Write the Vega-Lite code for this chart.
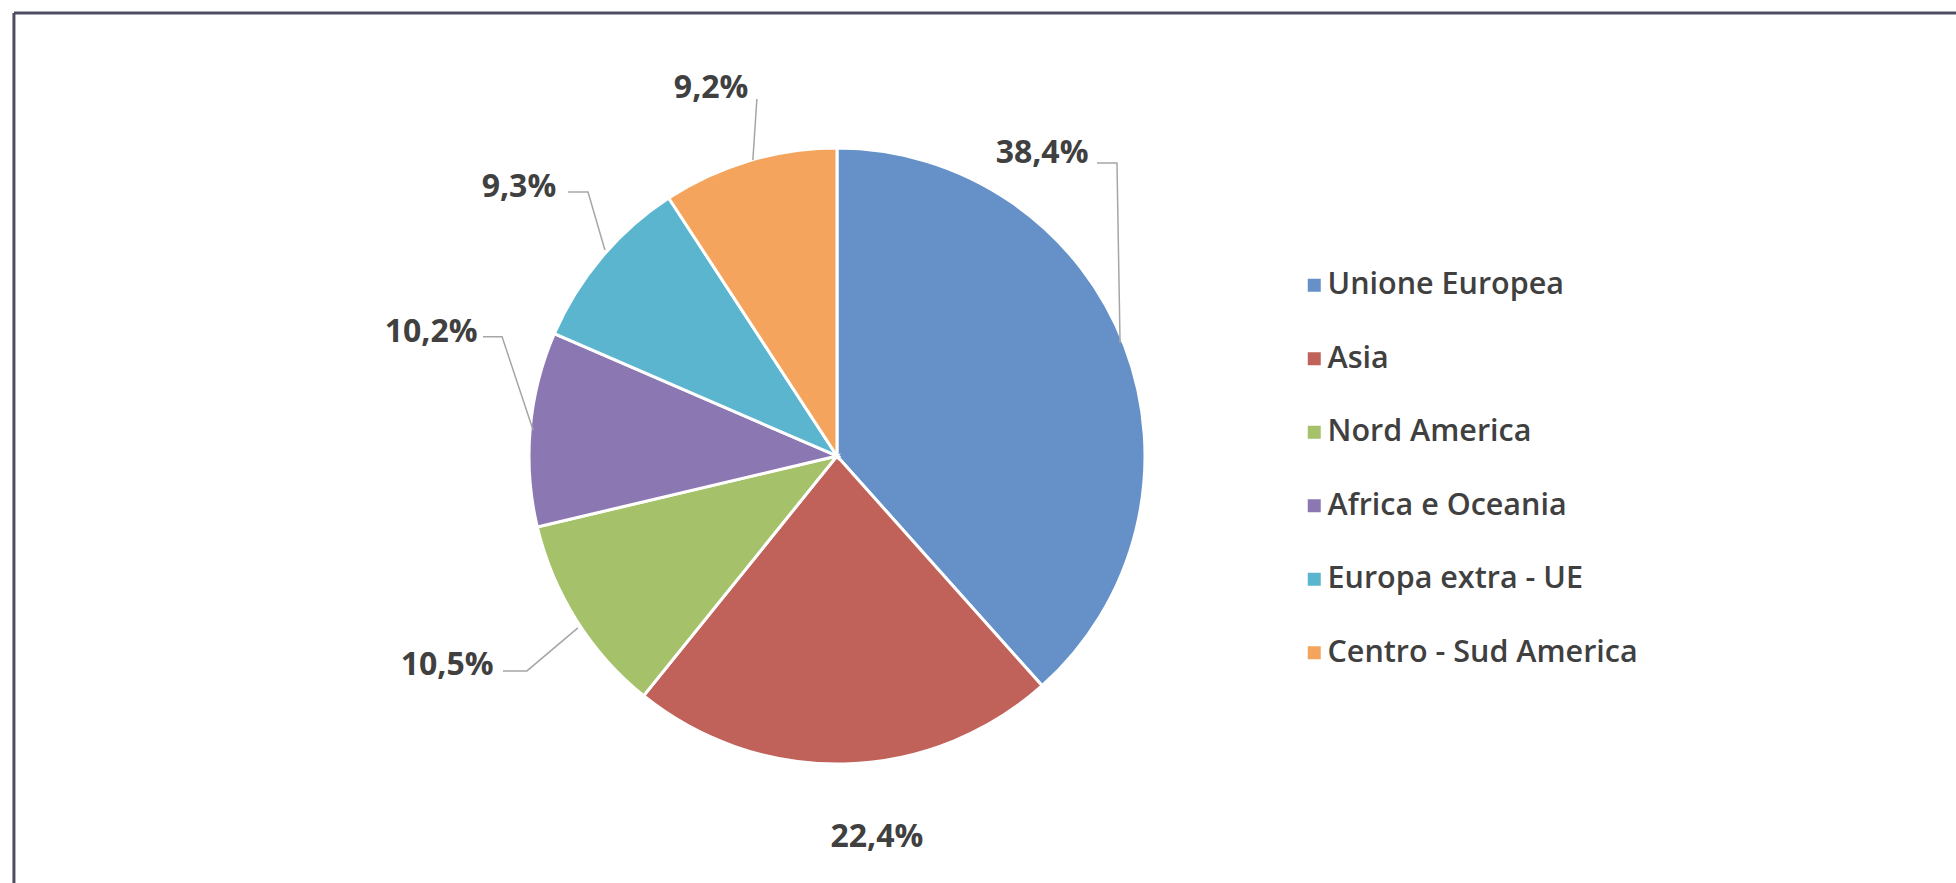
{
  "$schema": "https://vega.github.io/schema/vega-lite/v6.json",
  "width": 1956,
  "height": 883,
  "padding": 0,
  "autosize": {"type": "none"},
  "background": "white",
  "config": {"view": {"stroke": null}},
  "datasets": {
    "regions": [
      {"area": "Unione Europea", "share": 38.4, "ord": 1},
      {"area": "Asia", "share": 22.4, "ord": 2},
      {"area": "Nord America", "share": 10.5, "ord": 3},
      {"area": "Africa e Oceania", "share": 10.2, "ord": 4},
      {"area": "Europa extra - UE", "share": 9.3, "ord": 5},
      {"area": "Centro - Sud America", "share": 9.2, "ord": 6}
    ],
    "labels": [
      {"area": "Unione Europea", "text": "38,4%", "x": 0.668, "y": 0.987},
      {"area": "Asia", "text": "22,4%", "x": 0.130, "y": -1.241},
      {"area": "Nord America", "text": "10,5%", "x": -1.270, "y": -0.681},
      {"area": "Africa e Oceania", "text": "10,2%", "x": -1.322, "y": 0.404},
      {"area": "Europa extra - UE", "text": "9,3%", "x": -1.036, "y": 0.876},
      {"area": "Centro - Sud America", "text": "9,2%", "x": -0.410, "y": 1.199}
    ],
    "leaders": [
      {"area": "Unione Europea", "pt": 1, "x": 0.847, "y": 0.954},
      {"area": "Unione Europea", "pt": 2, "x": 0.912, "y": 0.954},
      {"area": "Unione Europea", "pt": 3, "x": 0.922, "y": 0.368},
      {"area": "Nord America", "pt": 1, "x": -1.088, "y": -0.700},
      {"area": "Nord America", "pt": 2, "x": -1.010, "y": -0.700},
      {"area": "Nord America", "pt": 3, "x": -0.844, "y": -0.560},
      {"area": "Africa e Oceania", "pt": 1, "x": -1.153, "y": 0.388},
      {"area": "Africa e Oceania", "pt": 2, "x": -1.091, "y": 0.388},
      {"area": "Africa e Oceania", "pt": 3, "x": -0.990, "y": 0.085},
      {"area": "Europa extra - UE", "pt": 1, "x": -0.876, "y": 0.860},
      {"area": "Europa extra - UE", "pt": 2, "x": -0.811, "y": 0.860},
      {"area": "Europa extra - UE", "pt": 3, "x": -0.756, "y": 0.671},
      {"area": "Centro - Sud America", "pt": 1, "x": -0.261, "y": 1.163},
      {"area": "Centro - Sud America", "pt": 2, "x": -0.274, "y": 0.964}
    ],
    "frame": [
      {"side": "top", "x": -2.681, "y": 1.443, "x2": 3.645, "y2": 1.443},
      {"side": "left", "x": -2.681, "y": 1.443, "x2": -2.681, "y2": -1.391}
    ]
  },
  "layer": [
    {
      "data": {"name": "frame"},
      "mark": {"type": "rule", "color": "#4E4E62", "strokeWidth": 3},
      "encoding": {
        "x": {"field": "x", "type": "quantitative", "scale": {"domain": [-2.7264, 3.645], "nice": false, "zero": false}, "axis": null},
        "y": {"field": "y", "type": "quantitative", "scale": {"domain": [-1.3909, 1.4853], "nice": false, "zero": false}, "axis": null},
        "x2": {"field": "x2"},
        "y2": {"field": "y2"}
      }
    },
    {
      "data": {"name": "regions"},
      "mark": {"type": "arc", "outerRadius": 308, "stroke": "white", "strokeWidth": 3},
      "encoding": {
        "x": {"datum": 0, "type": "quantitative"},
        "y": {"datum": 0, "type": "quantitative"},
        "theta": {"field": "share", "type": "quantitative", "stack": true},
        "order": {"field": "ord", "type": "quantitative"},
        "color": {
          "field": "area",
          "type": "nominal",
          "scale": {
            "domain": ["Unione Europea", "Asia", "Nord America", "Africa e Oceania", "Europa extra - UE", "Centro - Sud America"],
            "range": ["#6590C8", "#C0625A", "#A5C26B", "#8B78B3", "#5BB5CE", "#F4A45C"]
          },
          "legend": {
            "title": null,
            "orient": "none",
            "legendX": 1299,
            "legendY": 270,
            "symbolType": "square",
            "symbolSize": 169,
            "symbolStrokeWidth": 0,
            "labelFont": "Open Sans",
            "labelFontSize": 30.5,
            "labelFontWeight": 600,
            "labelColor": "#404040",
            "labelOffset": -2,
            "rowPadding": 42.5,
            "labelLimit": 600
          }
        }
      }
    },
    {
      "data": {"name": "leaders"},
      "mark": {"type": "line", "color": "#A6A6A6", "strokeWidth": 1.5},
      "encoding": {
        "x": {"field": "x", "type": "quantitative"},
        "y": {"field": "y", "type": "quantitative"},
        "detail": {"field": "area"},
        "order": {"field": "pt", "type": "quantitative"}
      }
    },
    {
      "data": {"name": "labels"},
      "mark": {"type": "text", "font": "Open Sans", "fontSize": 32, "fontWeight": "bold", "color": "#404040", "align": "center", "baseline": "middle"},
      "encoding": {
        "x": {"field": "x", "type": "quantitative"},
        "y": {"field": "y", "type": "quantitative"},
        "text": {"field": "text"}
      }
    }
  ]
}
